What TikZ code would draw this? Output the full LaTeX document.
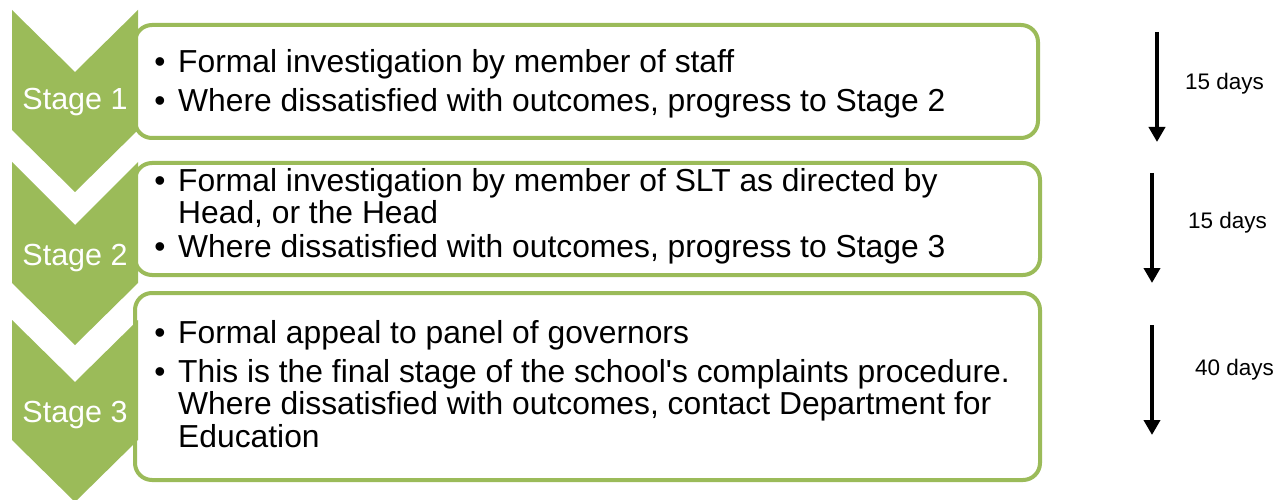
\documentclass[tikz,border=0pt]{standalone}
\usepackage{fontspec}
\setmainfont{Liberation Sans}[Ligatures=TeXOff]
\usetikzlibrary{arrows.meta}
\definecolor{olivegreen}{HTML}{9BBB59}
\begin{document}
\begin{tikzpicture}[x=1pt,y=-1pt,
  chev/.style={fill=olivegreen},
  box/.style={draw=olivegreen,line width=4pt,fill=white,rounded corners=17pt,inner sep=0pt},
  stagelbl/.style={text=white,font=\fontsize{30.5}{36}\selectfont,inner sep=0pt,anchor=base},
  bul/.style={font=\fontsize{31.8}{31.5}\selectfont,inner sep=0pt,anchor=base},
  itemtxt/.style={font=\fontsize{31.8}{31.5}\selectfont,inner sep=0pt,anchor=base west},
  days/.style={font=\fontsize{22.5}{27}\selectfont,inner sep=0pt,anchor=base west},
  dur/.style={line width=4pt,-{Triangle[width=16pt,length=15pt]}}]
\useasboundingbox[fill=white] (0,0) rectangle (1283,500);

% boxes
\node[box,minimum width=903pt,minimum height=113pt] (box1) at (586.5,81.5) {};
\node[box,minimum width=905pt,minimum height=112pt] (box2) at (587.5,219) {};
\node[box,minimum width=905pt,minimum height=187pt] (box3) at (587.5,386.5) {};

% chevrons
\fill[chev] (12,10) -- (75,72) -- (138,10) -- (138,130) -- (75,192) -- (12,130) -- cycle;
\fill[chev] (12,162) -- (75,225) -- (138,162) -- (138,283) -- (75,345) -- (12,283) -- cycle;
\fill[chev] (12,320) -- (75,382) -- (138,320) -- (138,440) -- (75,502) -- (12,440) -- cycle;

\node[stagelbl] (s1) at (75,110) {Stage 1};
\node[stagelbl] (s2) at (75,265) {Stage 2};
\node[stagelbl] (s3) at (75,422) {Stage 3};

% box 1 text
\node[bul] (b11) at (160,73) {•};
\node[itemtxt] (t11) at (178,73) {Formal investigation by member of staff};
\node[bul] (b12) at (160,112) {•};
\node[itemtxt] (t12) at (178,112) {Where dissatisfied with outcomes, progress to Stage 2};

% box 2 text
\node[bul] (b21) at (160,192) {•};
\node[itemtxt] (t21a) at (178,192) {Formal investigation by member of SLT as directed by};
\node[itemtxt] (t21b) at (178,223) {Head, or the Head};
\node[bul] (b22) at (160,257) {•};
\node[itemtxt] (t22) at (178,257) {Where dissatisfied with outcomes, progress to Stage 3};

% box 3 text
\node[bul] (b31) at (160,343) {•};
\node[itemtxt] (t31) at (178,343) {Formal appeal to panel of governors};
\node[bul] (b32) at (160,382) {•};
\node[itemtxt] (t32a) at (178,382) {This is the final stage of the school's complaints procedure.};
\node[itemtxt] (t32b) at (178,414) {Where dissatisfied with outcomes, contact Department for};
\node[itemtxt] (t32c) at (178,447) {Education};

% durations
\coordinate (a1s) at (1157,32);
\coordinate (a1e) at (1157,142);
\coordinate (a2s) at (1152,173);
\coordinate (a2e) at (1152,283);
\coordinate (a3s) at (1152,325);
\coordinate (a3e) at (1152,435);
\draw[dur] (a1s) -- (a1e);
\draw[dur] (a2s) -- (a2e);
\draw[dur] (a3s) -- (a3e);
\node[days] (d1) at (1185,90) {15 days};
\node[days] (d2) at (1188,228) {15 days};
\node[days] (d3) at (1195,375) {40 days};
\end{tikzpicture}
\end{document}
